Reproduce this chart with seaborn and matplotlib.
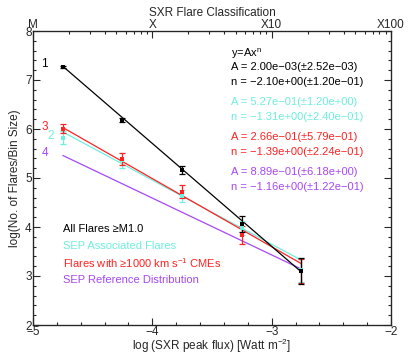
import numpy as np
import pandas as pd
import matplotlib
matplotlib.use("Agg")
import matplotlib.pyplot as plt
from matplotlib.ticker import MultipleLocator, FixedLocator
import seaborn as sns

# log bin centres of SXR peak flux
bin_x = [-4.75, -4.25, -3.75, -3.25, -2.75]

# all flares >= M1.0
all_y = [7.27, 6.18, 5.17, 4.06, 3.10]
all_err = [0.02, 0.04, 0.08, 0.16, 0.26]
# SEP associated flares
sep_y = [5.82, 5.36, 4.64, 3.98, 3.12]
sep_err = [0.13, 0.15, 0.12, 0.15, 0.24]
# flares with fast CMEs
cme_y = [6.01, 5.39, 4.72, 3.84, 3.10]
cme_err = [0.09, 0.13, 0.13, 0.19, 0.24]

# power-law fit lines (end points)
fit_x = [-4.75, -2.75]
all_fit = [7.28, 3.08]
sep_fit = [5.94, 3.32]
cme_fit = [6.03, 3.25]
ref_fit = [5.46, 3.14]

fit_text = {
    "all": ["A = 2.00e\u221203(\u00b12.52e\u221203)", "n = \u22122.10e+00(\u00b11.20e\u221201)"],
    "sep": ["A = 5.27e\u221201(\u00b11.20e+00)", "n = \u22121.31e+00(\u00b12.40e\u221201)"],
    "cme": ["A = 2.66e\u221201(\u00b15.79e\u221201)", "n = \u22121.39e+00(\u00b12.24e\u221201)"],
    "ref": ["A = 8.89e\u221201(\u00b16.18e+00)", "n = \u22121.16e+00(\u00b11.22e\u221201)"],
}
class_ticks = [-5, -4, -3, -2]
class_labels = ["M", "X", "X10", "X100"]

BLACK = "#000000"
CYAN = "#6eeedd"
RED = "#ff2222"
PURPLE = "#a648f5"

sns.set_style("ticks")
plt.rcParams['font.family'] = ['Liberation Sans', 'DejaVu Sans']
plt.rcParams['axes.unicode_minus'] = True

fig = plt.figure(figsize=(4.14, 3.55), dpi=100)
ax = fig.add_axes([33 / 414, 30 / 355, 358 / 414, 294 / 355])

# fit lines
for yy, col in [(ref_fit, PURPLE), (sep_fit, CYAN), (cme_fit, RED), (all_fit, BLACK)]:
    sns.lineplot(x=fit_x, y=yy, color=col, lw=0.9, ax=ax, legend=False)

# data points with error bars
for yy, ee, col, ms in [(sep_y, sep_err, CYAN, 3), (cme_y, cme_err, RED, 3), (all_y, all_err, BLACK, 3.5)]:
    ax.errorbar(bin_x, yy, yerr=ee, fmt="none", ecolor=col, elinewidth=0.9,
                capsize=2.2, capthick=0.9)
    df = pd.DataFrame({"x": bin_x, "y": yy})
    sns.scatterplot(data=df, x="x", y="y", marker="s", s=ms ** 2, color=col,
                    edgecolor=col, linewidth=0, ax=ax, zorder=5)

ax.set_xlim(-5, -2)
ax.set_ylim(2, 8)
ax.xaxis.set_major_locator(MultipleLocator(1))
ax.xaxis.set_minor_locator(MultipleLocator(0.2))
ax.yaxis.set_major_locator(MultipleLocator(1))
ax.yaxis.set_minor_locator(MultipleLocator(0.2))
ax.tick_params(which="both", direction="in", right=True, top=False,
               labelsize=8.5, width=0.8, pad=1)
ax.tick_params(which="major", length=5)
ax.tick_params(which="minor", length=2.5)
for sp in ax.spines.values():
    sp.set_linewidth(0.9)
ax.set_xlabel("log (SXR peak flux) [Watt m$^{\\mathregular{-2}}$]", fontsize=8.5, labelpad=-1)
ax.set_ylabel("log(No. of Flares/Bin Size)", fontsize=8.5, labelpad=3)

# top axis: flare classes
ax2 = ax.twiny()
ax2.set_xlim(-5, -2)
ax2.set_xticks(class_ticks)
ax2.set_xticklabels(class_labels)
minor_top = [d + np.log10(k) for d in [-5, -4, -3] for k in range(2, 10)]
ax2.xaxis.set_minor_locator(FixedLocator(minor_top))
ax2.tick_params(which="both", direction="in", labelsize=8.5, width=0.8, pad=0)
ax2.tick_params(which="major", length=5)
ax2.tick_params(which="minor", length=2.5)
ax2.set_xlabel("SXR Flare Classification", fontsize=8.5, labelpad=2)


def px(x, y):
    return ((x - 33) / 358, (324 - y) / 294)


# series numbers
for t, col, x, y in [("1", BLACK, 44, 63), ("3", RED, 45, 126), ("2", CYAN, 51, 135), ("4", PURPLE, 45, 152)]:
    ax.text(*px(x, y), t, color=col, fontsize=8.5, transform=ax.transAxes,
            ha="center", va="center")

# fit parameters
ax.text(*px(231, 53), "y=Ax$^{\\mathregular{n}}$", color=BLACK, fontsize=8, transform=ax.transAxes,
        ha="left", va="center")
rows = [("all", BLACK, 66), ("sep", CYAN, 101), ("cme", RED, 136), ("ref", PURPLE, 171)]
for key, col, y in rows:
    ax.text(*px(231, y), fit_text[key][0], color=col, fontsize=8,
            transform=ax.transAxes, ha="left", va="center")
    ax.text(*px(231, y + 15), fit_text[key][1], color=col, fontsize=8,
            transform=ax.transAxes, ha="left", va="center")

# legend text
legend_rows = [
    ("All Flares \u2265M1.0", BLACK, 228),
    ("SEP Associated Flares", CYAN, 245),
    ("Flares with \u22651000 km s$^{\\mathregular{-1}}$ CMEs", RED, 262),
    ("SEP Reference Distribution", PURPLE, 279),
]
for t, col, y in legend_rows:
    ax.text(*px(63, y), t, color=col, fontsize=8, transform=ax.transAxes,
            ha="left", va="center")

fig.savefig("out.png", dpi=100)
